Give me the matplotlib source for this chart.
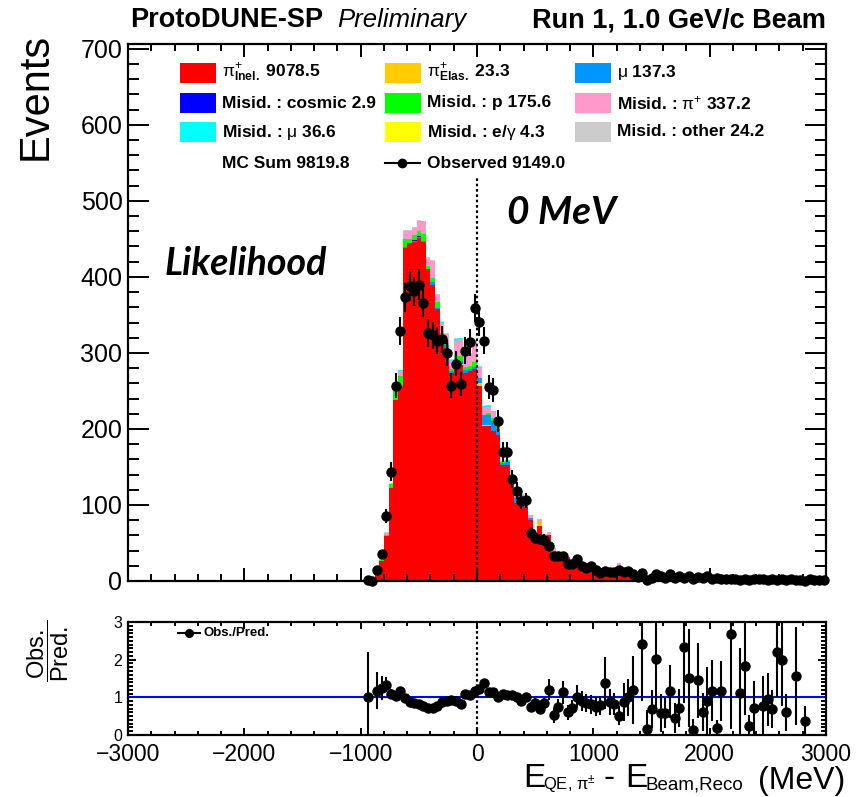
import numpy as np
import matplotlib.pyplot as plt
from matplotlib.ticker import MultipleLocator
from matplotlib.patches import Rectangle
from matplotlib.lines import Line2D

plt.rcParams['font.family'] = ['Liberation Sans', 'DejaVu Sans']
plt.rcParams['mathtext.fontset'] = 'custom'
plt.rcParams['mathtext.rm'] = 'Liberation Sans'
plt.rcParams['mathtext.it'] = 'Liberation Sans:italic'
plt.rcParams['mathtext.bf'] = 'Liberation Sans:bold'
plt.rcParams['axes.linewidth'] = 1.6

# 40 MeV bins from -960 to 3000 MeV
bin_w = 40
edges = np.arange(-960, 3000 + bin_w, bin_w)
centers = edges[:-1] + bin_w / 2

# MC components (events per bin), stacked bottom to top
pi_inel = [1, 2, 11, 26, 59, 122, 238, 255, 438, 444,
           446, 451, 446, 410, 389, 358, 321, 306, 274, 286,
           284, 274, 276, 279, 257, 204, 204, 197, 192, 152,
           153, 128, 103, 99, 97, 80, 59, 73, 57, 61,
           36, 36, 30, 30, 27, 23, 18, 16, 14, 12,
           10, 9, 9, 9, 16, 6, 6, 5, 5, 4,
           4, 3, 3, 3, 3, 2.5, 2.5, 2.5, 2, 2,
           7, 2, 2, 2, 2, 3, 1.5, 1.5, 1.5, 1.5,
           1.5, 1.5, 1.5, 1.2, 1.2, 1.2, 1.2, 1, 1, 1,
           1, 1, 1, 1, 1, 0.8, 0.8, 0.8, 0.8]
pi_elas = [0, 0, 0, 0, 0, 0, 0, 0, 0, 0,
           0, 0, 0, 0, 0, 0, 0, 1, 0, 2,
           2, 0, 0, 0, 4, 1, 1, 0, 0, 0,
           0, 0, 0, 0, 0, 0, 1, 5, 1, 0,
           2, 1, 0, 0, 0, 0, 0, 0, 0, 0,
           0, 0, 0, 0, 2, 0, 0, 0, 0, 0] + [0] * 39
mu = [0, 0, 0, 0, 0, 0, 0, 1, 1, 0,
      1, 1, 1, 0, 4, 1, 3, 3, 2, 3,
      3, 3, 3, 2, 6, 13, 14, 14, 8, 3,
      3, 2, 6, 7, 5, 3, 2, 0, 0, 0,
      0, 0, 2, 1, 1, 1, 1, 1, 1, 1,
      1, 1, 1, 1, 2, 0, 0, 1, 0, 0,
      1, 0, 0, 0, 0, 0, 0, 0, 0, 0] + [0] * 29
cosmic = [0] * 10 + [1, 2] + [0] * 87
proton = [0, 0, 1, 2, 2, 5, 14, 13, 11, 6,
          7, 6, 9, 4, 6, 8, 2, 3, 3, 5,
          7, 4, 4, 7, 0, 0, 2, 3, 4, 2,
          2, 2, 2, 3, 2, 0, 1, 0, 3, 0,
          2, 1, 2, 1, 0, 1, 1, 1, 1, 1] + [0] * 49
mis_pi = [0, 0, 0, 1, 2, 1, 4, 7, 10, 10,
          9, 14, 17, 9, 22, 9, 14, 12, 10, 20,
          22, 20, 15, 26, 13, 10, 8, 8, 3, 0,
          0, 3, 6, 5, 2, 2, 1, 3, 1, 3,
          3, 0, 3, 0, 1, 0, 0, 0, 0, 0,
          0, 0, 0, 0, 4, 0, 0, 0, 0, 0] + [0] * 39
mis_mu = [0, 0, 0, 0, 0, 0, 2, 2, 0, 0,
          0, 0, 0, 1, 0, 0, 1, 0, 2, 2,
          1, 0, 0, 3, 2, 2, 2, 2, 2, 1,
          1, 1, 1, 1, 0, 2, 0, 0, 0, 0,
          1, 0, 1, 0, 0, 0, 0, 0, 0, 0,
          0, 0, 0, 0, 0, 0, 0, 0, 1, 0,
          1, 0, 0, 0, 0, 0, 0, 0, 0, 0] + [0] * 29
egamma = [0] * 25 + [1] + [0] * 15 + [1, 2] + [0] * 56
other = [0, 0, 0, 0, 1, 1, 0, 0, 2, 2,
         1, 1, 1, 2, 1, 2, 1, 1, 1, 1,
         1, 2, 2, 0, 1, 0, 0, 0, 0, 0] + [0] * 69

observed = [1, 0, 14, 35, 86, 144, 257, 329, 373, 388,
            381, 390, 366, 326, 323, 316, 318, 300, 257, 286,
            259, 303, 314, 359, 341, 316, 255, 251, 210, 170,
            170, 134, 119, 105, 106, 63, 57, 55, 54, 46,
            33, 33, 33, 23, 23, 29, 20, 17, 20, 15,
            10, 13, 12, 12, 14, 12, 13, 9, 5, 11,
            1, 4, 9, 6, 4, 9, 4, 7, 4, 7,
            3, 5, 4, 7, 2, 4, 2, 2, 3, 2,
            1, 3, 1, 2, 3, 2, 1, 3, 1, 2,
            1, 2, 1, 1, 0, 2, 1, 1, 1]

nan = np.nan
ratio = [1.0, nan, 1.18, 1.25, 1.33, 1.10, 1.04, 1.18, 0.98, 0.87,
         0.84, 0.82, 0.78, 0.73, 0.73, 0.78, 0.87, 0.91, 0.93, 0.91,
         0.82, 1.10, 1.07, 1.16, 1.22, 1.38, 1.13, 1.13, 1.00, 1.09,
         1.06, 1.06, 1.00, 0.89, 1.00, 0.75, 0.84, 0.69, 0.84, 1.20,
         0.53, 0.75, 1.13, 0.60, 0.72, 1.02, 0.90, 0.85, 0.82, 0.75,
         0.79, 1.38, 0.87, 0.82, 0.51, 0.87, 1.00, 1.20, nan, 2.41,
         0.17, 0.69, 2.03, 0.58, 0.58, 1.16, 0.46, 0.71, 2.34, 1.51,
         0.13, 1.45, 0.61, 0.91, 1.18, 0.19, 1.16, nan, 2.67, nan,
         1.11, 1.83, 0.24, 0.73, nan, 0.76, 0.95, 0.69, 2.21, 1.98,
         0.60, nan, 1.56, nan, 0.37, nan, nan, nan, nan]
ratio_err = [1.2, nan, 0.5, 0.32, 0.2, 0.12, 0.08, 0.07, 0.05, 0.05,
             0.05, 0.05, 0.05, 0.05, 0.05, 0.05, 0.05, 0.05, 0.05, 0.05,
             0.05, 0.05, 0.05, 0.05, 0.07, 0.07, 0.07, 0.07, 0.07, 0.08,
             0.08, 0.09, 0.1, 0.1, 0.1, 0.12, 0.13, 0.13, 0.14, 0.28,
             0.2, 0.2, 0.3, 0.2, 0.22, 0.3, 0.27, 0.25, 0.25, 0.25,
             0.25, 0.7, 0.35, 0.3, 0.25, 0.5, 0.5, 0.9, nan, 1.5,
             0.5, 0.5, 1.3, 0.5, 0.4, 0.7, 0.4, 0.5, 1.5, 1.3,
             0.3, 1.0, 0.5, 0.9, 0.8, 0.2, 0.8, nan, 2.5, nan,
             1.2, 1.3, 0.3, 0.7, nan, 0.8, 0.7, 0.5, 1.2, 1.2,
             0.5, nan, 1.3, nan, 0.4, nan, nan, nan, nan]

mc_parts = [pi_inel, pi_elas, mu, cosmic, proton, mis_pi, mis_mu, egamma, other]
mc_colors = ['#ff0000', '#ffcc00', '#0096ff', '#0000ff', '#00ff00',
             '#ff99cc', '#00ffff', '#ffff00', '#cccccc']
mc_labels = [r'$\mathrm{\pi}^{+}_{\mathbf{Inel.}}$ 9078.5',
             r'$\mathrm{\pi}^{+}_{\mathbf{Elas.}}$ 23.3',
             r'$\mathrm{\mu}$ 137.3',
             'Misid. : cosmic 2.9',
             'Misid. : p 175.6',
             r'Misid. : $\mathrm{\pi}^{+}$ 337.2',
             r'Misid. : $\mathrm{\mu}$ 36.6',
             r'Misid. : e/$\mathrm{\gamma}$ 4.3',
             'Misid. : other 24.2']

W, H = 863, 797


def fxy(x, y):
    # pixel position -> figure fraction
    return x / W, 1 - y / H


fig = plt.figure(figsize=(W / 100, H / 100), dpi=100)
ax = fig.add_axes([128 / W, 1 - 581 / H, 698 / W, 537.5 / H])
axr = fig.add_axes([128 / W, 1 - 735 / H, 698 / W, 113 / H], sharex=ax)

# stacked MC
bottom = np.zeros(len(centers))
for vals, color in zip(mc_parts, mc_colors):
    top = bottom + np.asarray(vals, float)
    ax.stairs(top, edges, baseline=bottom, fill=True, color=color, lw=0, zorder=1)
    bottom = top

ax.plot([0, 0], [0, 530], color='k', lw=1.6, dashes=(1.2, 1.2), zorder=3)

obs = np.asarray(observed, float)
ax.errorbar(centers, obs, yerr=np.sqrt(obs), fmt='o', color='k', ms=6.5,
            elinewidth=1.5, capsize=0, zorder=4, clip_on=False)

ax.set_xlim(-3000, 3000)
ax.set_ylim(0, 707)
ax.xaxis.set_major_locator(MultipleLocator(1000))
ax.xaxis.set_minor_locator(MultipleLocator(200))
ax.yaxis.set_major_locator(MultipleLocator(100))
ax.yaxis.set_minor_locator(MultipleLocator(20))
ax.tick_params(which='both', direction='in', top=True, right=True, width=1.4)
ax.tick_params(axis='y', which='major', length=15, labelsize=18, pad=4)
ax.tick_params(axis='y', which='minor', length=8)
ax.tick_params(axis='x', which='major', length=9.5)
ax.tick_params(axis='x', which='minor', length=4.8)
ax.tick_params(axis='x', labelbottom=False)

# ratio panel
axr.axhline(1, color='#0000ff', lw=1.5, zorder=2)
axr.axvline(0, color='k', lw=1.6, dashes=(1.2, 1.2), zorder=2)
axr.errorbar(centers, ratio, yerr=ratio_err, fmt='o', color='k', ms=6.5,
             elinewidth=1.5, capsize=0, zorder=3)
axr.set_ylim(0, 3)
axr.yaxis.set_major_locator(MultipleLocator(1))
axr.yaxis.set_minor_locator(MultipleLocator(0.1))
axr.tick_params(which='both', direction='in', top=True, right=True, width=1.4)
axr.tick_params(axis='y', which='major', length=6, labelsize=11.5, pad=4)
axr.tick_params(axis='y', which='minor', length=3.5)
axr.tick_params(axis='x', which='major', length=5, labelsize=16.5, pad=5.5)
axr.tick_params(axis='x', which='minor', length=3)

# header and axis titles
fig.text(*fxy(130, 27), 'ProtoDUNE-SP', fontsize=19.5, weight='bold', va='baseline')
fig.text(*fxy(337, 27), 'Preliminary', fontsize=18.5, style='italic', va='baseline')
fig.text(*fxy(826, 27), 'Run 1, 1.0 GeV/c Beam', fontsize=19.5, weight='bold',
         ha='right', va='baseline')
fig.text(*fxy(36, 33), 'Events', fontsize=30, rotation=90, ha='center', va='top')
fig.text(*fxy(48, 651), r'$\dfrac{\mathrm{Obs.}}{\mathrm{Pred.}}$', fontsize=17,
         rotation=90, ha='center', va='center')

# x title: E_{QE, pi+-} - E_{Beam,Reco} (MeV)
fig.text(*fxy(523, 787), 'E', fontsize=24, va='baseline')
fig.text(*fxy(543, 790), r'QE, $\mathrm{\pi}^{\pm}$', fontsize=12, va='baseline')
fig.text(*fxy(603, 787), '-', fontsize=24, va='baseline')
fig.text(*fxy(625, 787), 'E', fontsize=24, va='baseline')
fig.text(*fxy(645, 790), 'Beam,Reco', fontsize=13.5, va='baseline')
fig.text(*fxy(845, 789), '(MeV)', fontsize=23, ha='right', va='baseline')

# annotations
fig.text(*fxy(165, 275), 'Likelihood', fontsize=27, family='Lato', weight='bold',
         style='italic', va='baseline')
fig.text(*fxy(507, 224), '0 MeV', fontsize=28, family='Lato', weight='bold',
         style='italic', va='baseline')

# legend, three columns
col_x = [180, 385, 575]
row_y = [73, 103, 132, 163]
for k, (label, color) in enumerate(zip(mc_labels, mc_colors)):
    cx, ry = col_x[k % 3], row_y[k // 3]
    x0, y0 = fxy(cx, ry + 10)
    fig.add_artist(Rectangle((x0, y0), 36 / W, 20 / H, transform=fig.transFigure,
                             facecolor=color, edgecolor='none'))
    fig.text(*fxy(cx + 42, ry), label, fontsize=12.5, weight='bold', va='center')
fig.text(*fxy(col_x[0] + 42, row_y[3]), 'MC Sum 9819.8', fontsize=12.5,
         weight='bold', va='center')
lx = [fxy(385, 0)[0], fxy(402, 0)[0], fxy(420, 0)[0]]
ly = fxy(0, row_y[3])[1]
fig.add_artist(Line2D(lx, [ly] * 3, transform=fig.transFigure, color='k', lw=1.5,
                      marker='o', ms=6, markevery=[1]))
fig.text(*fxy(col_x[1] + 42, row_y[3]), 'Observed 9149.0', fontsize=12.5,
         weight='bold', va='center')

# ratio legend
rx = [fxy(178, 0)[0], fxy(189, 0)[0], fxy(200, 0)[0]]
ry = fxy(0, 633)[1]
fig.add_artist(Line2D(rx, [ry] * 3, transform=fig.transFigure, color='k', lw=1.5,
                      marker='o', ms=5.5, markevery=[1]))
fig.text(*fxy(203, 633), 'Obs./Pred.', fontsize=9.5, weight='bold', va='center')

fig.savefig('out.png', dpi=100)
